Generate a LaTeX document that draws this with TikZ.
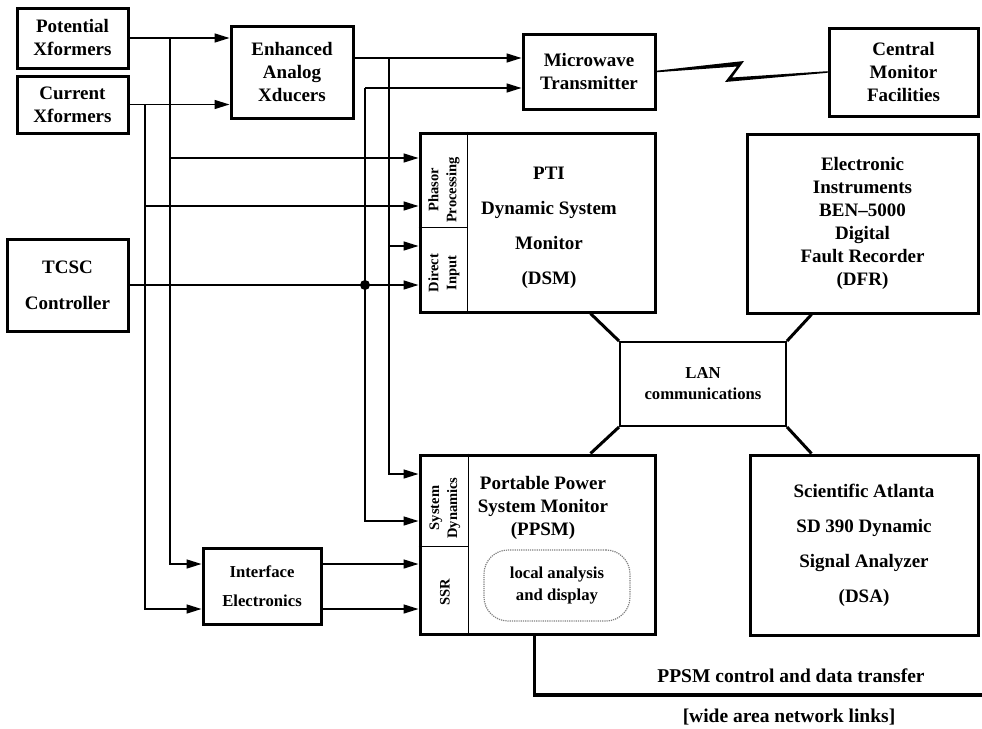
\documentclass[tikz,border=0pt]{standalone}
\usepackage{fontspec}
\setmainfont{Liberation Serif}
\usetikzlibrary{arrows.meta,calc}

\begin{document}
\begin{tikzpicture}[x=1pt, y=-1pt,
    unit/.style={rectangle, draw, line width=3pt, align=center, inner sep=0pt,
                 font=\bfseries\fontsize{19}{23}\selectfont},
    title/.style={align=center, inner sep=0pt, font=\bfseries\fontsize{19}{23}\selectfont},
    small/.style={align=center, font=\bfseries\fontsize{16.7}{21}\selectfont},
    tag/.style={rotate=90, align=center, inner sep=0pt, font=\bfseries\fontsize{14.5}{18}\selectfont},
    rule/.style={line width=1pt},
    wire/.style={line width=1.5pt, -{Triangle[length=15pt,width=9pt]}},
    bus/.style={line width=1.5pt},
    lanlink/.style={line width=3pt},
    caption/.style={inner sep=0pt, font=\bfseries\fontsize{19.5}{23}\selectfont}
]
    \useasboundingbox (0,0) rectangle (982,728);
    \node[unit, minimum width=111pt, minimum height=60pt] (pot) at (72.5,38) {Potential\\Xformers};
    \node[unit, minimum width=111pt, minimum height=57pt] (cur) at (72.5,104.5) {Current\\Xformers};
    \node[unit, minimum width=122pt, minimum height=92pt] (eax) at (292,72) {Enhanced\\Analog\\Xducers};
    \node[unit, minimum width=132pt, minimum height=75pt] (mwt) at (589,71.5) {Microwave\\Transmitter};
    \node[unit, minimum width=149pt, minimum height=88pt] (cmf) at (903.5,72) {Central\\Monitor\\Facilities};
    \node[unit, minimum width=121pt, minimum height=92pt] (tcsc) at (67.5,285) {TCSC\\[13pt]Controller};
    \node[unit, minimum width=235pt, minimum height=179pt] (dsm) at (537.5,222.5) {};
    \node[unit, minimum width=231pt, minimum height=179pt] (dfr) at (862.5,223.5) {Electronic\\Instruments\\BEN–5000\\Digital\\Fault Recorder\\(DFR)};
    \node[unit, line width=2pt, minimum width=166pt, minimum height=84pt, small] (lan) at (703,384) {LAN\\communications};
    \node[unit, minimum width=235pt, minimum height=179pt] (ppsm) at (537.5,544.5) {};
    \node[unit, minimum width=228pt, minimum height=180pt] (dsa) at (864,545) {Scientific Atlanta\\[12pt]SD 390 Dynamic\\[12pt]Signal Analyzer\\[12pt](DSA)};
    \node[unit, minimum width=118pt, minimum height=76pt, small] (ife) at (262,586) {Interface\\[8pt]Electronics};
    \node[rectangle, rounded corners=24pt, draw=gray, densely dotted, line width=1.2pt,
          minimum width=146pt, minimum height=71pt, small] (lad) at (557,585.5) {local analysis\\and display};

    \draw[rule] ([xshift=49pt]dsm.north west) -- ([xshift=49pt]dsm.south west);
    \draw[rule] ([yshift=-96pt]dsm.north west) -- ++(49,0);
    \draw[rule] ([xshift=50pt]ppsm.north west) -- ([xshift=50pt]ppsm.south west);
    \draw[rule] ([yshift=-93pt]ppsm.north west) -- ++(50,0);
    \node[tag] (phasor) at (444,190) {Phasor\\Processing};
    \node[tag] (direct) at (444,273) {Direct\\Input};
    \node[tag] (sysdyn) at (445,508) {System\\Dynamics};
    \node[tag] (ssr) at (445,592) {SSR};
    \node[title] (dsmtext) at (549,228) {PTI\\[12pt]Dynamic System\\[12pt]Monitor\\[12pt](DSM)};
    \node[title] (ppsmtext) at (543,508) {Portable Power\\System Monitor\\(PPSM)};

    \coordinate (ptap) at (170,38);
    \coordinate (ctap) at (145,104.5);
    \coordinate (etap) at (389,58);
    \coordinate (ttap) at (365,88);
    \coordinate (mwtin1) at ([yshift=13.5pt]mwt.west);
    \coordinate (mwtin2) at ([yshift=-16.5pt]mwt.west);
    \coordinate (dsmin1) at ([yshift=64.5pt]dsm.west);
    \coordinate (dsmin2) at ([yshift=16.5pt]dsm.west);
    \coordinate (dsmin3) at ([yshift=-23.5pt]dsm.west);
    \coordinate (dsmin4) at (dsm.west |- tcsc.east);
    \coordinate (ppsmin1) at ([yshift=70.5pt]ppsm.west);
    \coordinate (ppsmin2) at ([yshift=23.5pt]ppsm.west);
    \coordinate (ppsmin3) at ([yshift=-19.5pt]ppsm.west);
    \coordinate (ppsmin4) at ([yshift=-64.5pt]ppsm.west);
    \coordinate (ifein1) at ([yshift=22pt]ife.west);
    \coordinate (ifein2) at ([yshift=-23pt]ife.west);

    \draw[wire] (pot.east) -- (pot.east -| eax.west);
    \draw[wire] (cur.east) -- (cur.east -| eax.west);
    \draw[wire] (eax.east |- mwtin1) -- (mwtin1);
    \draw[wire] (ttap) -- (mwtin2);
    \draw[wire] (ptap) |- (ifein1);
    \draw[wire] (ctap) |- (ifein2);
    \draw[wire] (ptap |- dsmin1) -- (dsmin1);
    \draw[wire] (ctap |- dsmin2) -- (dsmin2);
    \draw[wire] (etap) |- (ppsmin1);
    \draw[wire] (etap |- dsmin3) -- (dsmin3);
    \draw[wire] (tcsc.east) -- (dsmin4);
    \draw[wire] (ttap) |- (ppsmin2);
    \fill (ttap |- dsmin4) circle (5pt);
    \draw[wire] (ife.east |- ppsmin3) -- (ppsmin3);
    \draw[wire] (ife.east |- ppsmin4) -- (ppsmin4);

    \fill ([yshift=0.8pt]mwt.east) -- (744,61) -- (732,77.5) -- ([yshift=0.8pt]cmf.west)
        -- ([yshift=-0.8pt]cmf.west) -- (725,82) -- (737,66.5) -- ([yshift=-0.8pt]mwt.east) -- cycle;

    \draw[lanlink] (lan.north west) -- ([xshift=172pt]dsm.south west);
    \draw[lanlink] (lan.north east) -- ([xshift=66pt]dfr.south west);
    \draw[lanlink] (lan.south west) -- ([xshift=172pt]ppsm.north west);
    \draw[lanlink] (lan.south east) -- ([xshift=63pt]dsa.north west);

    \coordinate (wanend) at (984,695);
    \draw[line width=3.5pt] ([xshift=116pt]ppsm.south west) |- (wanend);
    \node[caption] (wanlabel) at (791,676) {PPSM control and data transfer};
    \node[caption] (wannote) at (789,717) {[wide area network links]};
\end{tikzpicture}
\end{document}
